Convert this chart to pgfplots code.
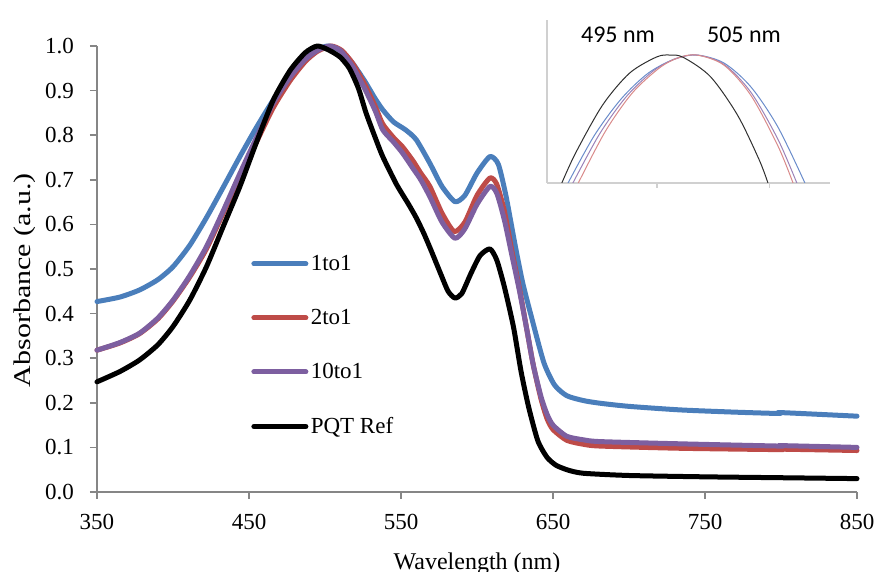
\documentclass[border=0pt]{standalone}
\usepackage{pgfplots}
\pgfplotsset{compat=1.18}
\usepackage{fontspec}
\setmainfont{Liberation Serif}
\newfontfamily\ylabfont{Liberation Serif}[FakeStretch=1.25]
\newfontfamily\insetfont{Carlito}
\definecolor{cblue}{HTML}{4A7EBB}
\definecolor{cred}{HTML}{BE4B48}
\definecolor{cpurple}{HTML}{7D5FA0}
\definecolor{axgray}{HTML}{868686}
\definecolor{ingray}{HTML}{D0D0D0}
\definecolor{iblue}{HTML}{6A8CCB}
\definecolor{ired}{HTML}{D98A8A}
\definecolor{ipurple}{HTML}{9A82B8}
\definecolor{iblack}{HTML}{303030}
\begin{document}
\begin{tikzpicture}
\begin{axis}[name=main, at={(0,0)}, anchor=south west,
  scale only axis, width=380pt, height=223pt,
  xmin=350, xmax=850, ymin=0, ymax=1,
  axis x line*=bottom, axis y line*=left,
  axis line style={draw=axgray, line width=0.8pt, -},
  tick style={draw=axgray, line width=0.8pt},
  tick align=outside, major tick length=3.5pt,
  xtick={350,450,550,650,750,850},
  ytick={0,0.1,0.2,0.3,0.4,0.5,0.6,0.7,0.8,0.9,1.0},
  /pgf/number format/assume math mode=true,
  ticklabel style={font=\fontsize{11.5}{13}\selectfont},
  yticklabel style={xshift=-4.5pt, /pgf/number format/.cd, fixed, fixed zerofill, precision=1},
  xticklabel style={yshift=-4pt},
  xlabel={Wavelength (nm)}, ylabel={\ylabfont Absorbance (a.u.)},
  label style={font=\fontsize{12}{14}\selectfont},
  xlabel style={at={(axis description cs:0.5,0)}, anchor=north, yshift=-27pt},
  ylabel style={at={(axis description cs:0,0.475)}, anchor=center, yshift=36pt},
  clip=false,
  legend style={at={(axis cs:451.3,0.3285)}, anchor=west, draw=none, fill=none,
    font=\fontsize{11.5}{13}\selectfont, row sep=15.5pt, inner sep=0pt,
    nodes={inner sep=1.2pt}},
  legend cell align=left,
  legend image code/.code={\draw[#1] (0pt,0pt) -- (26pt,0pt);},
  every axis plot/.append style={line width=2.5pt, line cap=round, line join=round},
]
\addplot[cblue, smooth, tension=0.4] coordinates {
(350,0.427)(365,0.437)(378,0.453)(390,0.476)(400,0.505)(411,0.553)(422,0.615)
(433,0.683)(444,0.752)(455,0.818)(466,0.879)(477,0.930)(487,0.970)(495,0.992)
(502,1.000)(510,0.990)(518,0.962)(526,0.922)(533,0.882)(538,0.857)(545,0.830)
(553,0.812)(560,0.790)(569,0.737)(577,0.685)(585.5,0.651)(592,0.665)(600,0.715)
(608.5,0.752)(614,0.735)(619,0.665)(625,0.555)(630,0.470)(636,0.390)(644,0.290)
(651,0.240)(659,0.216)(670,0.205)(681,0.199)(700,0.192)(734,0.184)(770,0.179)
(799,0.176)(800,0.178)(850,0.170)};
\addlegendentry{1to1}
\addplot[cred, smooth, tension=0.4] coordinates {
(350,0.318)(365,0.334)(378,0.355)(390,0.388)(400,0.428)(411,0.482)(422,0.545)
(433,0.625)(444,0.705)(455,0.785)(466,0.862)(477,0.922)(487,0.965)(495,0.988)
(504,1.000)(511,0.990)(518,0.962)(526,0.915)(533,0.865)(538,0.825)(545,0.795)
(551,0.774)(558,0.742)(563,0.715)(569,0.685)(577,0.625)(585,0.584)(592,0.605)
(600,0.665)(608.5,0.704)(613,0.690)(618,0.630)(623,0.540)(628,0.455)(633,0.360)
(637,0.285)(642,0.210)(646,0.165)(650,0.140)(659,0.116)(670,0.107)(681,0.103)
(734,0.098)(799,0.095)(800,0.096)(850,0.093)};
\addlegendentry{2to1}
\addplot[cpurple, smooth, tension=0.4] coordinates {
(350,0.318)(365,0.335)(378,0.356)(390,0.390)(400,0.430)(411,0.485)(422,0.550)
(433,0.630)(444,0.714)(455,0.795)(466,0.872)(477,0.930)(487,0.970)(495,0.990)
(503,1.000)(510,0.990)(518,0.955)(526,0.905)(533,0.855)(538,0.812)(545,0.785)
(551,0.760)(558,0.725)(563,0.700)(569,0.662)(577,0.605)(585.5,0.569)(592,0.590)
(600,0.645)(608.5,0.685)(613,0.670)(618,0.610)(623,0.530)(628,0.450)(633,0.360)
(637,0.285)(642,0.215)(646,0.175)(650,0.150)(659,0.125)(670,0.117)(681,0.113)
(734,0.108)(799,0.103)(800,0.104)(850,0.100)};
\addlegendentry{10to1}
\addplot[black, smooth, tension=0.4] coordinates {
(350,0.247)(365,0.270)(378,0.296)(390,0.330)(400,0.371)(411,0.430)(422,0.505)
(433,0.595)(444,0.685)(455,0.785)(466,0.879)(477,0.945)(487,0.985)(495,1.000)
(503,0.990)(510,0.975)(516,0.950)(522,0.905)(527,0.850)(533,0.795)(538,0.752)
(547,0.690)(555,0.645)(560,0.615)(565,0.580)(570,0.540)(576,0.490)(581,0.450)
(585.5,0.435)(590,0.445)(596,0.490)(602,0.530)(608.5,0.545)(613,0.520)(618,0.460)
(624,0.370)(629,0.270)(634,0.190)(640,0.115)(646,0.078)(652,0.060)(660,0.049)
(670,0.042)(700,0.037)(750,0.034)(800,0.032)(850,0.030)};
\addlegendentry{PQT Ref}
\end{axis}
\begin{axis}[at={(225pt,154.5pt)}, anchor=south west,
  scale only axis, width=141.5pt, height=81.5pt,
  xmin=449.4, xmax=554.3, ymin=0, ymax=1,
  axis x line*=bottom, axis y line*=left,
  axis line style={draw=ingray, line width=0.6pt, -},
  tick style={draw=ingray, line width=0.6pt},
  tick align=outside, major tick length=2.5pt,
  xtick={490.2,532}, xticklabels={}, ytick=\empty,
  clip=true,
  every axis plot/.append style={line width=0.5pt},
]
\addplot[iblue, smooth] coordinates {
(457.2,0)(467,0.293)(477,0.518)(487,0.675)(497,0.763)(505,0.785)(515,0.736)
(525,0.589)(535,0.343)(545,0)};
\addplot[ipurple, smooth] coordinates {
(459,0)(469,0.304)(479,0.534)(489,0.690)(497,0.761)(505,0.785)(515,0.728)
(525,0.556)(535,0.268)(542,0)};
\addplot[ired, smooth] coordinates {
(461,0)(471,0.316)(481,0.552)(491,0.705)(498,0.768)(505,0.785)(515,0.723)
(525,0.537)(535,0.227)(540.6,0)};
\addplot[iblack, smooth] coordinates {
(454.9,0)(460,0.184)(470,0.478)(480,0.674)(490,0.773)(495,0.785)(500,0.770)
(510,0.652)(520,0.417)(528,0.144)(531.3,0)};
\node[font=\insetfont\fontsize{12}{14}\selectfont] at (axis cs:475.7,0.91) {495 nm};
\node[font=\insetfont\fontsize{12}{14}\selectfont] at (axis cs:522.4,0.91) {505 nm};
\end{axis}
\pgfresetboundingbox
\path[use as bounding box] (-48.5pt,-40pt) rectangle (390pt,246pt);
\end{tikzpicture}
\end{document}
